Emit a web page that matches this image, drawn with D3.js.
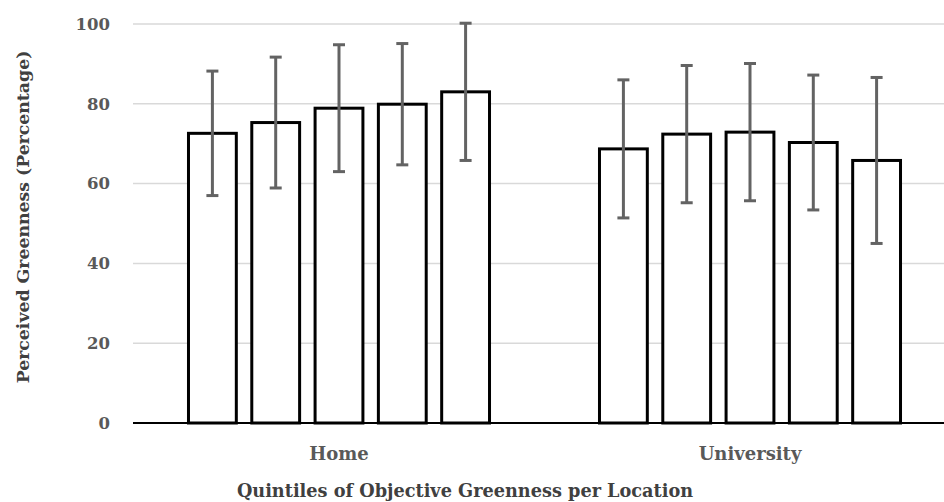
<!DOCTYPE html>
<html>
<head>
<meta charset="utf-8">
<script src="https://cdn.jsdelivr.net/npm/d3@7"></script>
<style>
  body { margin: 0; background: #fff; }
  text { font-family: "DejaVu Serif", "Liberation Serif", serif; font-weight: bold; }
</style>
</head>
<body>
<div id="chart"></div>
<script>
// data
var locations = ["Home", "University"];
var quintiles = ["Q1", "Q2", "Q3", "Q4", "Q5"];
var homeMeans = [72.6, 75.3, 78.9, 79.9, 83.0];
var homeErr = [15.6, 16.4, 15.9, 15.2, 17.2];
var uniMeans = [68.7, 72.4, 72.9, 70.3, 65.8];
var uniErr = [17.3, 17.2, 17.2, 16.9, 20.8];
var yTicks = [0, 20, 40, 60, 80, 100];

function init() {
    var w = 944;
    var h = 502;

    var svg = d3.select("#chart")
        .append("svg")
        .attr("width", w)
        .attr("height", h);

    var y = d3.scaleLinear()
        .domain([0, 100])
        .range([423, 24]);

    var x0 = d3.scaleBand() //location groups
        .domain(locations)
        .range([133.5, 955.5])
        .padding(0);

    var x1 = d3.scaleBand() //quintiles inside a group
        .domain(quintiles)
        .range([0, x0.bandwidth()])
        .paddingInner(0.197)
        .paddingOuter(0.845);

    // gridlines
    svg.append("g")
        .selectAll("line")
        .data(yTicks.filter(function(d) { return d > 0; }))
        .enter()
        .append("line")
        .attr("x1", 133)
        .attr("x2", w)
        .attr("y1", function(d) { return y(d); })
        .attr("y2", function(d) { return y(d); })
        .attr("stroke", "#d9d9d9")
        .attr("stroke-width", 1.5);

    // y tick labels
    var yAxis = d3.axisLeft(y).tickValues(yTicks).tickSize(0).tickPadding(0);
    var gy = svg.append("g")
        .attr("transform", "translate(110,0)")
        .call(yAxis);
    gy.select(".domain").remove();
    gy.selectAll("text")
        .attr("fill", "#595959")
        .style("font-size", "16.5px");

    var dataset = [];
    locations.forEach(function(loc, li) {
        var means = li == 0 ? homeMeans : uniMeans;
        var errs = li == 0 ? homeErr : uniErr;
        quintiles.forEach(function(q, qi) {
            dataset.push({loc: loc, q: q, value: means[qi], err: errs[qi]});
        });
    });

    // bars
    svg.append("g")
        .selectAll("rect")
        .data(dataset)
        .enter()
        .append("rect")
        .attr("x", function(d) { return x0(d.loc) + x1(d.q) + 1.5; })
        .attr("width", x1.bandwidth() - 3)
        .attr("y", function(d) { return y(d.value); })
        .attr("height", function(d) { return y(0) - y(d.value); })
        .attr("fill", "#fff")
        .attr("stroke", "#000")
        .attr("stroke-width", 3);

    // error bars
    var eb = svg.append("g")
        .selectAll("g")
        .data(dataset)
        .enter()
        .append("g")
        .attr("stroke", "#636363")
        .attr("stroke-width", 3);

    function cx(d) { return x0(d.loc) + x1(d.q) + x1.bandwidth() / 2; }

    eb.append("line")
        .attr("x1", cx).attr("x2", cx)
        .attr("y1", function(d) { return y(d.value + d.err); })
        .attr("y2", function(d) { return y(d.value - d.err); });
    eb.append("line")
        .attr("x1", function(d) { return cx(d) - 6; })
        .attr("x2", function(d) { return cx(d) + 6; })
        .attr("y1", function(d) { return y(d.value + d.err); })
        .attr("y2", function(d) { return y(d.value + d.err); });
    eb.append("line")
        .attr("x1", function(d) { return cx(d) - 6; })
        .attr("x2", function(d) { return cx(d) + 6; })
        .attr("y1", function(d) { return y(d.value - d.err); })
        .attr("y2", function(d) { return y(d.value - d.err); });

    // x axis line
    svg.append("line")
        .attr("x1", 133)
        .attr("x2", w)
        .attr("y1", y(0))
        .attr("y2", y(0))
        .attr("stroke", "#000")
        .attr("stroke-width", 2);

    // category labels
    var xAxis = d3.axisBottom(x0).tickSize(0).tickPadding(0);
    var gx = svg.append("g")
        .attr("transform", "translate(0,447)")
        .call(xAxis);
    gx.select(".domain").remove();
    gx.selectAll("text")
        .attr("fill", "#595959")
        .style("font-size", "18px");

    // axis titles
    svg.append("text")
        .attr("x", 465)
        .attr("y", 497)
        .attr("text-anchor", "middle")
        .attr("fill", "#404040")
        .style("font-size", "17.7px")
        .text("Quintiles of Objective Greenness per Location");

    svg.append("text")
        .attr("transform", "translate(29,217) rotate(-90)")
        .attr("text-anchor", "middle")
        .attr("fill", "#404040")
        .style("font-size", "17.3px")
        .text("Perceived Greenness (Percentage)");
}

init();
</script>
</body>
</html>
